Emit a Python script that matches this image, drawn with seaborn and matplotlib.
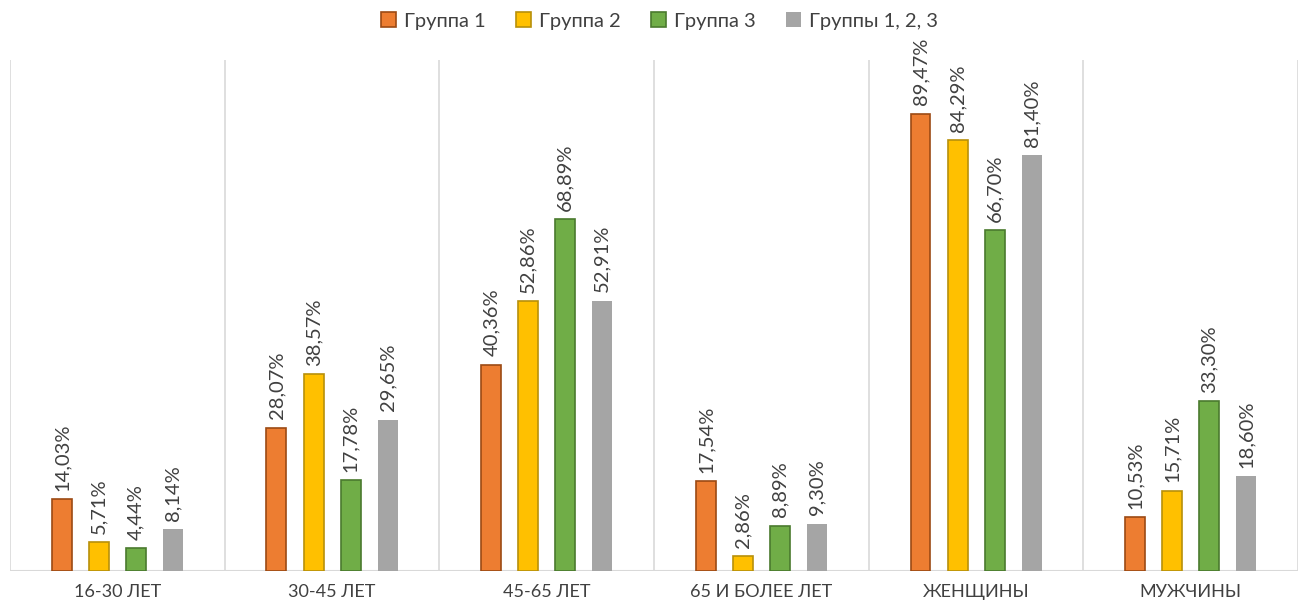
import matplotlib
matplotlib.use("Agg")
import matplotlib.pyplot as plt
import seaborn as sns
import pandas as pd
from matplotlib.patches import Patch

categories = ["16-30 ЛЕТ", "30-45 ЛЕТ", "45-65 ЛЕТ", "65 И БОЛЕЕ ЛЕТ", "ЖЕНЩИНЫ", "МУЖЧИНЫ"]
series_names = ["Группа 1", "Группа 2", "Группа 3", "Группы 1, 2, 3"]
group1 = [14.03, 28.07, 40.36, 17.54, 89.47, 10.53]
group2 = [5.71, 38.57, 52.86, 2.86, 84.29, 15.71]
group3 = [4.44, 17.78, 68.89, 8.89, 66.70, 33.30]
group_all = [8.14, 29.65, 52.91, 9.30, 81.40, 18.60]

colors = ["#ED7D31", "#FFC000", "#70AD47", "#A5A5A5"]
edges = ["#9C4A14", "#B8900A", "#4A7A2E", "none"]

rows = []
for name, vals in zip(series_names, [group1, group2, group3, group_all]):
    for c, v in zip(categories, vals):
        rows.append({"cat": c, "series": name, "value": v})
df = pd.DataFrame(rows)

sns.set_theme(style="white")
plt.rcParams["font.family"] = ["Lato", "DejaVu Sans"]

fig = plt.figure(figsize=(13.03, 6.03), dpi=100)
ax = fig.add_axes([0.0077, 0.053, 0.9885, 0.8475])

sns.barplot(data=df, x="cat", y="value", hue="series", order=categories,
            hue_order=series_names, palette=colors, width=0.69, gap=0.46,
            ax=ax, legend=False, errorbar=None, saturation=1)

for cont, ec in zip(ax.containers, edges):
    for p in cont.patches:
        if ec == "none":
            p.set_edgecolor("none")
        else:
            p.set_edgecolor(ec)
            p.set_linewidth(1.2)
    labels = [f"{v:.2f}%".replace(".", ",") for v in cont.datavalues]
    ax.bar_label(cont, labels=labels, rotation=90, padding=6, fontsize=14.5, color="#404040")

ax.set_ylim(0, 100)
ax.set_xlim(-0.5, len(categories) - 0.5)
for x in [i - 0.5 for i in range(len(categories) + 1)]:
    ax.axvline(x, color="#D9D9D9", lw=1.2, zorder=0)
for s in ax.spines.values():
    s.set_visible(False)
ax.axhline(0, color="#D9D9D9", lw=1.5, zorder=0)
ax.set_yticks([])
ax.set_xlabel("")
ax.set_ylabel("")
ax.tick_params(axis="x", length=0, pad=9, labelsize=13, labelcolor="#404040")

handles = [Patch(facecolor=c, edgecolor=(e if e != "none" else "none"), lw=1.2)
           for c, e in zip(colors, edges)]
fig.legend(handles, series_names, loc="center", bbox_to_anchor=(0.506, 0.965), ncol=4,
           frameon=False, fontsize=14.5, handlelength=0.75, handleheight=0.75,
           handletextpad=0.4, columnspacing=1.5, labelcolor="#404040")

fig.savefig("out.png", dpi=100)
